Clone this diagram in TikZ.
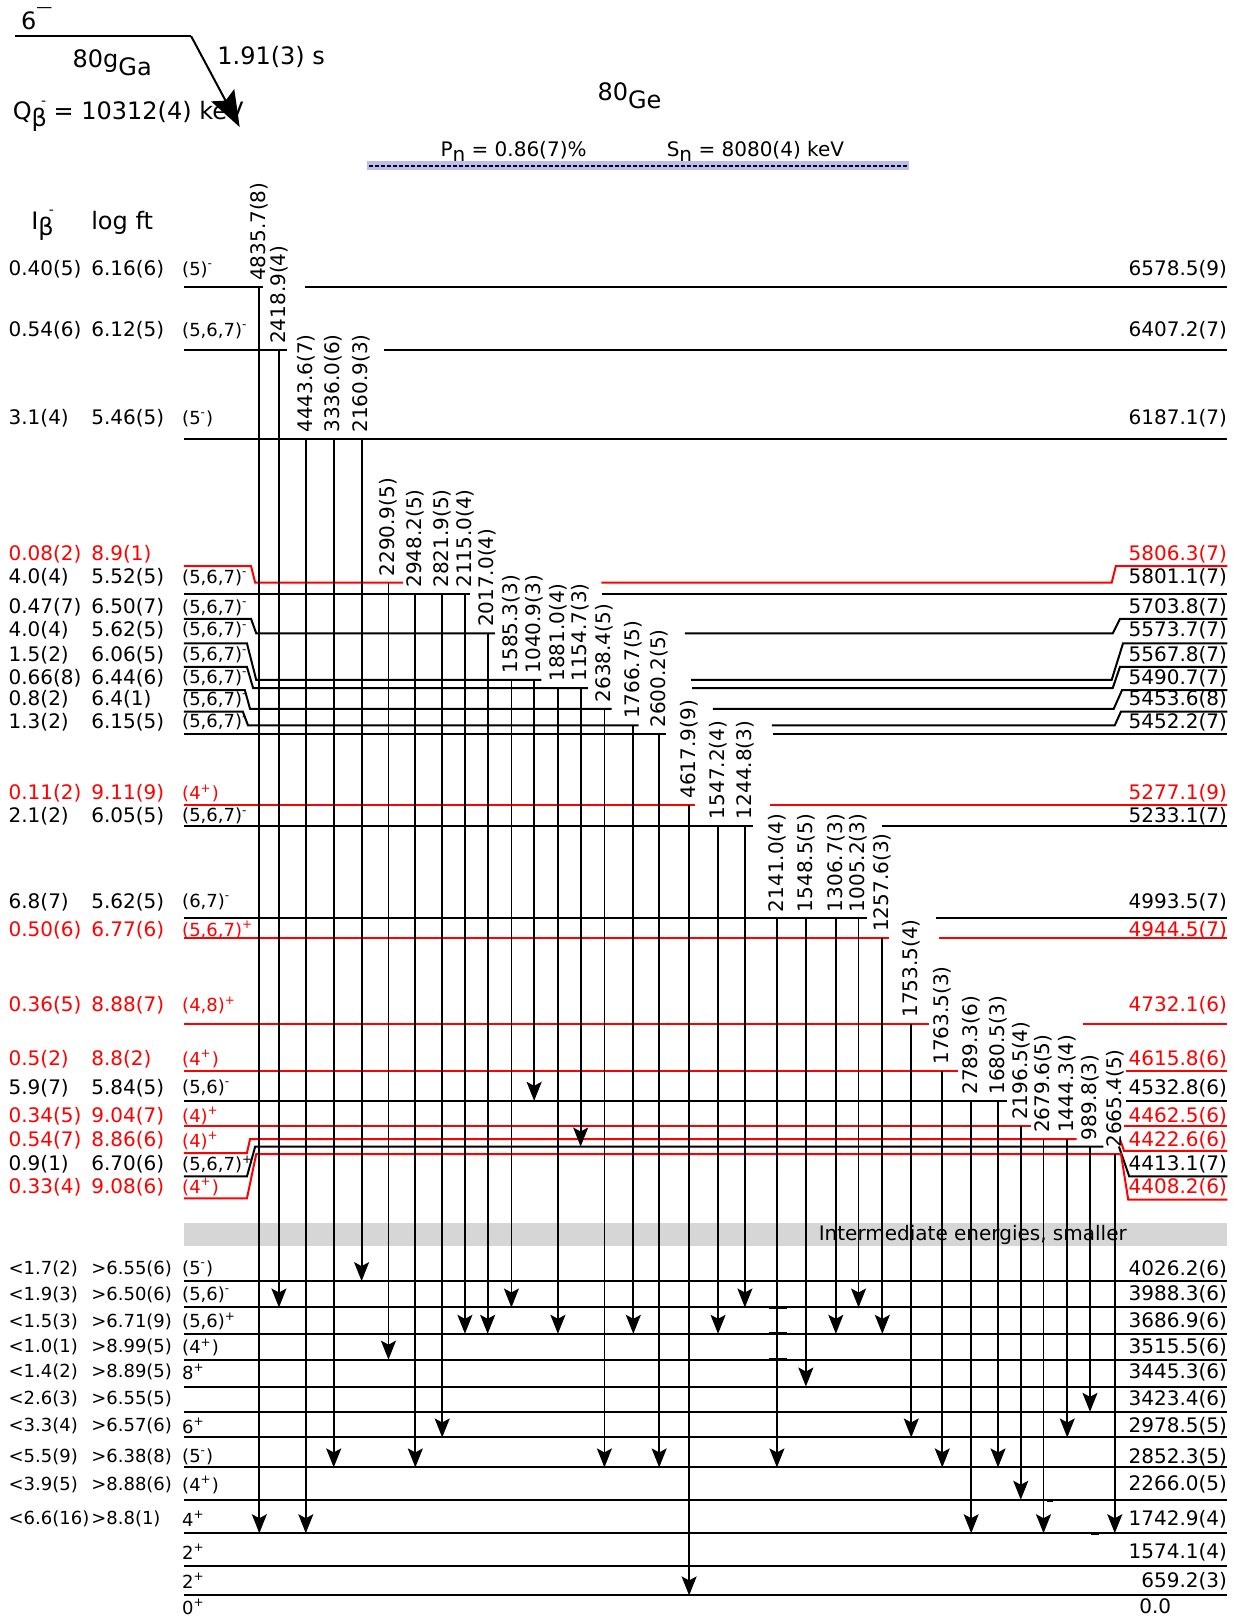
\documentclass[tikz,border=0pt]{standalone}
\usepackage{fontspec}
\setmainfont{DejaVu Sans}
\usepackage{tikz}
\usetikzlibrary{arrows.meta}
\definecolor{lvred}{HTML}{FF0000}
\definecolor{bandgray}{HTML}{D6D6D6}
\definecolor{snblue}{HTML}{BCBCF0}
\newcommand{\parm}{\textsuperscript{-}}
\newcommand{\parp}{\textsuperscript{+}}
% one row of level texts: name, y, colour, I_beta, log ft, spin, energy
\newcommand{\lvtext}[7]{%
  \node[lab,text=#3,anchor=west] (i#1) at (8,#2) {#4};
  \node[lab,text=#3,anchor=west] (f#1) at (88,#2) {#5};
  \node[spn,text=#3,anchor=west] (s#1) at (176,#2) {#6};
  \node[lab,text=#3,anchor=east] (e#1) at (1188,#2) {#7};}

\begin{document}
\begin{tikzpicture}[x=0.51664pt,y=-0.51664pt,
    lvl/.style={line width=1pt},
    gam/.style={line width=0.9pt,-{Stealth[length=9.5pt,width=7.5pt,inset=2pt]}},
    glab/.style={rotate=90,anchor=west,inner xsep=3pt,inner ysep=0pt,font=\fontsize{10}{12}\selectfont},
    lab/.style={inner sep=0pt,font=\fontsize{10}{12}\selectfont},
    spn/.style={inner sep=0pt,font=\fontsize{9}{11}\selectfont},
    big/.style={inner sep=0pt,font=\fontsize{12}{14}\selectfont}]
  \useasboundingbox (0,0) rectangle (1202,1568);

  % parent
  \coordinate (p0) at (15,35);
  \coordinate (p1) at (185,35);
  \coordinate (p2) at (232,123);
  \draw[line width=1pt] (p0) -- (p1);
  \draw[line width=1pt,-{Stealth[length=18pt,width=13pt,inset=3pt]}] (p1) -- (p2);
  \node[big,anchor=base west] (jpi) at (20,29) {6\raisebox{1.3ex}{\fontsize{8}{8}\selectfont —}};
  \node[big,anchor=base west] (gname) at (70,65) {80g\raisebox{-0.6ex}{Ga}};
  \node[big,anchor=base west] (thalf) at (210,62) {1.91(3) s};
  \node[big,anchor=base west] (qval) at (12,116) {Q\raisebox{-0.5ex}{β}\kern-0.25em\raisebox{1.1ex}{\scriptsize -} = 10312(4) keV};
  \node[big,anchor=base west] (dname) at (578,97) {80\raisebox{-0.6ex}{Ge}};
  \node[big,anchor=base west] (hib) at (30,222) {I\raisebox{-0.5ex}{β}\kern-0.2em\raisebox{1.1ex}{\scriptsize -}};
  \node[big,anchor=base west] (hft) at (88,222) {log ft};

  % neutron separation
  \fill[snblue] (355,156) rectangle (880,165);
  \draw[dash pattern=on 2pt off 1pt,line width=0.8pt] (357,160.5) -- (878,160.5);
  \node[lab,anchor=base west] (pn) at (426,151) {P\raisebox{-0.5ex}{n} = 0.86(7)\%};
  \node[lab,anchor=base west] (sn) at (645,151) {S\raisebox{-0.5ex}{n} = 8080(4) keV};

  % band
  \fill[bandgray] (178,1184) rectangle (1188,1206);
  \node[lab,anchor=east] (band) at (1091,1195) {Intermediate energies, smaller};

  % levels
  \draw[lvl] (178,278) -- (255,278) (295,278) -- (1188,278);
  \draw[lvl] (178,339) -- (278,339) (372,339) -- (1188,339);
  \draw[lvl] (178,425) -- (1188,425);
  \draw[lvl,lvred] (178,548) -- (243,548) -- (247,564) -- (390,564) (582,564) -- (1076,564) -- (1080,548) -- (1188,548);
  \draw[lvl] (178,575) -- (455,575) (583,575) -- (1188,575);
  \draw[lvl] (178,599) -- (243,599) -- (248,613) -- (479,613) (663,613) -- (1077,613) -- (1084,599) -- (1188,599);
  \draw[lvl] (178,622.6) -- (239,622.6) -- (248,658) -- (524,658) (669,658) -- (1076,658) -- (1087,622.6) -- (1188,622.6);
  \draw[lvl] (178,645.5) -- (239,645.5) -- (245,666) -- (569,666) (670,666) -- (1077,666) -- (1084,645.5) -- (1188,645.5);
  \draw[lvl] (178,668) -- (237,668) -- (242,686) -- (592,686) (690,686) -- (1078,686) -- (1086,668) -- (1188,668);
  \draw[lvl] (178,688.7) -- (235,688.7) -- (240,702) -- (618,702) (747,702) -- (1079,702) -- (1085,688.7) -- (1188,688.7);
  \draw[lvl] (178,710.5) -- (645,710.5) (748,710.5) -- (1188,710.5);
  \draw[lvl,lvred] (178,779) -- (673,779) (745,779) -- (1188,779);
  \draw[lvl] (178,799) -- (729,799) (854,799) -- (1188,799);
  \draw[lvl] (178,889) -- (839,889) (906,889) -- (1188,889);
  \draw[lvl,lvred] (178,908) -- (860,908) (909,908) -- (1188,908);
  \draw[lvl,lvred] (178,991) -- (899,991) (1048,991) -- (1188,991);
  \draw[lvl,lvred] (178,1036.5) -- (927,1036.5) (1090,1036.5) -- (1188,1036.5);
  \draw[lvl] (178,1065.5) -- (975,1065.5) (1090,1065.5) -- (1188,1065.5);
  \draw[lvl,lvred] (178,1090) -- (998,1090) (1088,1090) -- (1188,1090);
  \draw[lvl,lvred] (178,1116) -- (239,1116) -- (242,1102.6) -- (1042,1102.6) (1084,1102.6) -- (1088,1114) -- (1188,1114);
  \draw[lvl] (178,1138.7) -- (239,1138.7) -- (247,1109.7) -- (1068,1109.7) (1083,1109.7) -- (1093,1138.7) -- (1188,1138.7);
  \draw[lvl,lvred] (178,1160) -- (239,1160) -- (248,1117) -- (1085,1117) -- (1092,1161) -- (1188,1161);
  \foreach \y in {1240,1265.5,1291,1316,1342,1366.5,1391.3,1420.3,1451.6,1484,1515.5,1544.2}
    \draw[lvl] (178,\y) -- (1188,\y);
  % short heavy marks left on some levels
  \foreach \y in {1265.5,1291,1316}
    \draw[line width=1.4pt] (744,\y) -- (762,\y);
  \draw[line width=1.4pt] (1013,1452) -- (1019,1452) (1056,1484) -- (1064,1484);

  % level heights where the gammas start and end
  \foreach \n/\y in {6578/278,6407/339,6187/425,5806/564,5801/575,5703/613,5573/658,5567/666,
      5490/686,5453/702,5452/710.5,5277/779,5233/799,4993/889,4944/908,4732/991,4615/1036.5,
      4532/1065.5,4462/1090,4422/1102.6,4413/1109.7,4408/1117,4026/1240,3988/1265.5,3686/1291,
      3515/1316,3445/1342,3423/1366.5,2978/1391.3,2852/1420.3,2266/1451.6,1742/1484,1574/1515.5,659/1544.2}
    \coordinate (L\n) at (0,\y);

  % level texts
  \lvtext{6578}{261}{black}{0.40(5)}{6.16(6)}{(5)\parm}{6578.5(9)}
  \lvtext{6407}{320}{black}{0.54(6)}{6.12(5)}{(5,6,7)\parm}{6407.2(7)}
  \lvtext{6187}{405}{black}{3.1(4)}{5.46(5)}{(5\parm)}{6187.1(7)}
  \lvtext{5806}{536}{lvred}{0.08(2)}{8.9(1)}{}{5806.3(7)}
  \lvtext{5801}{559}{black}{4.0(4)}{5.52(5)}{(5,6,7)\parm}{5801.1(7)}
  \lvtext{5703}{588}{black}{0.47(7)}{6.50(7)}{(5,6,7)\parm}{5703.8(7)}
  \lvtext{5573}{610}{black}{4.0(4)}{5.62(5)}{(5,6,7)\parm}{5573.7(7)}
  \lvtext{5567}{634}{black}{1.5(2)}{6.06(5)}{(5,6,7)\parm}{5567.8(7)}
  \lvtext{5490}{656}{black}{0.66(8)}{6.44(6)}{(5,6,7)\parm}{5490.7(7)}
  \lvtext{5453}{677}{black}{0.8(2)}{6.4(1)}{(5,6,7)\parm}{5453.6(8)}
  \lvtext{5452}{699}{black}{1.3(2)}{6.15(5)}{(5,6,7)\parm}{5452.2(7)}
  \lvtext{5277}{768}{lvred}{0.11(2)}{9.11(9)}{(4\parp)}{5277.1(9)}
  \lvtext{5233}{790}{black}{2.1(2)}{6.05(5)}{(5,6,7)\parm}{5233.1(7)}
  \lvtext{4993}{873}{black}{6.8(7)}{5.62(5)}{(6,7)\parm}{4993.5(7)}
  \lvtext{4944}{900}{lvred}{0.50(6)}{6.77(6)}{(5,6,7)\parp}{4944.5(7)}
  \lvtext{4732}{973}{lvred}{0.36(5)}{8.88(7)}{(4,8)\parp}{4732.1(6)}
  \lvtext{4615}{1025}{lvred}{0.5(2)}{8.8(2)}{(4\parp)}{4615.8(6)}
  \lvtext{4532}{1053}{black}{5.9(7)}{5.84(5)}{(5,6)\parm}{4532.8(6)}
  \lvtext{4462}{1080}{lvred}{0.34(5)}{9.04(7)}{(4)\parp}{4462.5(6)}
  \lvtext{4422}{1104}{lvred}{0.54(7)}{8.86(6)}{(4)\parp}{4422.6(6)}
  \lvtext{4413}{1127}{black}{0.9(1)}{6.70(6)}{(5,6,7)\parp}{4413.1(7)}
  \lvtext{4408}{1149}{lvred}{0.33(4)}{9.08(6)}{(4\parp)}{4408.2(6)}
  \lvtext{4026}{1228}{black}{\small <1.7(2)}{\small >6.55(6)}{(5\parm)}{4026.2(6)}
  \lvtext{3988}{1253}{black}{\small <1.9(3)}{\small >6.50(6)}{(5,6)\parm}{3988.3(6)}
  \lvtext{3686}{1279}{black}{\small <1.5(3)}{\small >6.71(9)}{(5,6)\parp}{3686.9(6)}
  \lvtext{3515}{1304}{black}{\small <1.0(1)}{\small >8.99(5)}{(4\parp)}{3515.5(6)}
  \lvtext{3445}{1328}{black}{\small <1.4(2)}{\small >8.89(5)}{8\parp}{3445.3(6)}
  \lvtext{3423}{1354}{black}{\small <2.6(3)}{\small >6.55(5)}{}{3423.4(6)}
  \lvtext{2978}{1380}{black}{\small <3.3(4)}{\small >6.57(6)}{6\parp}{2978.5(5)}
  \lvtext{2852}{1410}{black}{\small <5.5(9)}{\small >6.38(8)}{(5\parm)}{2852.3(5)}
  \lvtext{2266}{1437}{black}{\small <3.9(5)}{\small >8.88(6)}{(4\parp)}{2266.0(5)}
  \lvtext{1742}{1470}{black}{\small <6.6(16)}{\small >8.8(1)}{4\parp}{1742.9(4)}
  \lvtext{1574}{1502}{black}{}{}{2\parp}{1574.1(4)}
  \lvtext{659}{1530}{black}{}{}{2\parp}{659.2(3)}
  \node[spn,anchor=west] (s0) at (176,1555) {0\parp};
  \node[lab,anchor=east] (e0) at (1134,1555) {0.0};

  % gamma rays: x / from / to / energy
  \foreach \xg/\ya/\yb/\gl in {251/6578/1742/4835.7(8), 270/6407/3988/2418.9(4),
      296/6187/1742/4443.6(7), 323/6187/2852/3336.0(6), 350/6187/4026/2160.9(3),
      376/5806/3515/2290.9(5), 402/5801/2852/2948.2(5), 428/5801/2978/2821.9(5),
      450/5801/3686/2115.0(4), 472/5703/3686/2017.0(4), 495/5573/3988/1585.3(3),
      517/5573/4532/1040.9(3), 540/5567/3686/1881.0(4), 562/5567/4413/1154.7(3),
      585/5490/2852/2638.4(5), 613/5453/3686/1766.7(5), 638/5452/2852/2600.2(5),
      667/5277/659/4617.9(9), 695/5233/3686/1547.2(4), 721/5233/3988/1244.8(3),
      752/4993/2852/2141.0(4), 780/4993/3445/1548.5(5), 809/4993/3686/1306.7(3),
      831/4993/3988/1005.2(3), 854/4944/3686/1257.6(3), 882/4732/2978/1753.5(4),
      912/4615/2852/1763.5(3), 940/4532/1742/2789.3(6), 966/4532/2852/1680.5(3),
      988/4462/2266/2196.5(4), 1010/4422/1742/2679.6(5), 1033/4422/2978/1444.3(4),
      1055/4413/3423/989.8(3), 1079/4408/1742/2665.4(5)} {
    \draw[gam] (\xg,0 |- L\ya) -- (\xg,0 |- L\yb);
    \node[glab] (g\xg) at (\xg,0 |- L\ya) {\gl};
  }
\end{tikzpicture}
\end{document}
